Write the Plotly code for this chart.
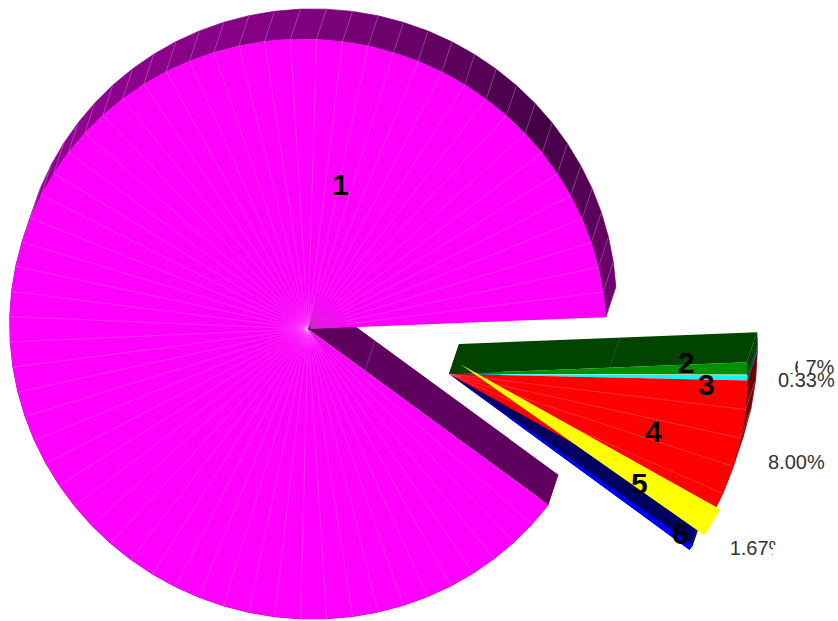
import numpy as np
import plotly.graph_objects as go

# Slice data
slice_names = ["1", "2", "3", "4", "5", "6"]
slice_values = [89.00, 0.67, 0.33, 8.00, 1.67, 0.33]
value_labels = ["", "0.67%", "0.33%", "8.00%", "1.67%", ""]

face_colors = ["#ff00ff", "#009000", "#00ffff", "#ff0000", "#ffff00", "#0000ff"]
cut_colors = ["#5f005f", "#004400", "#006060", "#700000", "#707000", "#000060"]
wall_bases = [(255, 0, 255), (0, 136, 0), (0, 190, 190), (255, 0, 0), (200, 200, 0), (0, 0, 200)]

# Projection of the tilted disc onto the plotting area
AXIS_A, AXIS_B = 299.0, 289.5
TILT = np.radians(-15.0)
DEPTH = (10.0, -30.0)
START_ANGLE = -21.8
CENTRES = [(308, 329), (449, 374), (449, 374), (449, 374), (460, 364), (449, 374)]
FACETS = [64, 2, 1, 5, 1, 1]
EDGE = "rgba(255,215,255,0.45)"


def rim(centre, angles):
    rad = np.radians(angles)
    ex, ey = AXIS_A * np.cos(rad), AXIS_B * np.sin(rad)
    return (centre[0] + ex * np.cos(TILT) - ey * np.sin(TILT),
            centre[1] - (ex * np.sin(TILT) + ey * np.cos(TILT)))


def wall_color(angle, base):
    # Side walls darken towards the upper right, away from the light
    folded = (angle + 40) % 360 - 40
    stops = [-40, 20, 35, 55, 75, 105, 145, 185, 320]
    levels = [0.44, 0.44, 0.36, 0.27, 0.36, 0.50, 0.56, 0.60, 0.60]
    k = np.interp(folded, stops, levels)
    return "rgb({},{},{})".format(*[int(c * k) for c in base])


def poly(xs, ys, color, seal=False):
    # A thin outline in the fill colour closes the seams between neighbouring quads
    line = dict(width=0.7, color=color) if seal else dict(width=0)
    return go.Scatter(x=list(xs), y=list(ys), mode="lines", fill="toself",
                      fillcolor=color, line=line, hoverinfo="skip")


def hairlines(xs, ys, color=EDGE):
    return go.Scatter(x=xs, y=ys, mode="lines", line=dict(color=color, width=0.5),
                      hoverinfo="skip")


def cut_wall(c, px, py, color):
    return poly([c[0], px, px + DEPTH[0], c[0] + DEPTH[0]],
                [c[1], py, py + DEPTH[1], c[1] + DEPTH[1]], color)


def cut_seam(c, px, py, t, color=EDGE):
    sx, sy = c[0] + t * (px - c[0]), c[1] + t * (py - c[1])
    return hairlines([sx, sx + DEPTH[0]], [sy, sy + DEPTH[1]], color)


fig = go.Figure()

# Slices run clockwise from the start angle
sweeps = np.array(slice_values) / sum(slice_values) * 360.0
ends = START_ANGLE - np.cumsum(sweeps)
starts = ends + sweeps
dx, dy = DEPTH

# Rear walls go first so the faces can cover them
for i in [5, 3, 2, 1, 0]:
    c = CENTRES[i]
    a = np.linspace(starts[i], ends[i], FACETS[i] + 1)
    x, y = rim(c, a)

    # Outer rim, one quad per facet
    for j in range(len(a) - 1):
        mid = (a[j] + a[j + 1]) / 2
        fig.add_trace(poly([x[j], x[j + 1], x[j + 1] + dx, x[j] + dx],
                           [y[j], y[j + 1], y[j + 1] + dy, y[j] + dy],
                           wall_color(mid, wall_bases[i]), seal=True))
    if i in (0, 3):
        lx, ly = [], []
        for j in range(len(a)):
            lx += [x[j], x[j] + dx, None]
            ly += [y[j], y[j] + dy, None]
        fig.add_trace(hairlines(lx, ly))

    if i == 0:
        fig.add_trace(cut_wall(c, x[0], y[0], cut_colors[i]))
        fig.add_trace(cut_seam(c, x[0], y[0], 0.237))
    if i == 1:
        fig.add_trace(cut_wall(c, x[0], y[0], cut_colors[i]))
        fig.add_trace(cut_seam(c, x[0], y[0], 0.54, "rgba(120,200,120,0.4)"))
    if i == 5:
        fig.add_trace(cut_wall(c, x[-1], y[-1], cut_colors[i]))

# Top faces
for i in [1, 2, 3, 5, 4, 0]:
    c = CENTRES[i]
    a = np.linspace(starts[i], ends[i], max(FACETS[i] * 4, 8) + 1)
    x, y = rim(c, a)
    fig.add_trace(poly([c[0], *x], [c[1], *y], face_colors[i]))
    if FACETS[i] > 2:
        ticks = np.linspace(starts[i], ends[i], FACETS[i] + 1)[1:-1]
        tx, ty = rim(c, ticks)
        lx, ly = [], []
        for px, py in zip(tx, ty):
            lx += [c[0], px, None]
            ly += [c[1], py, None]
        fig.add_trace(hairlines(lx, ly))
        if i == 0:
            # Darker hub on the side of the slice facing the gap
            hub = [(px, py) for px, py, t in zip(tx, ty, ticks)
                   if (t + 40) % 360 - 40 < 90]
            hx, hy = [], []
            for px, py in hub:
                hx += [c[0], c[0] + 0.13 * (px - c[0]), None]
                hy += [c[1], c[1] + 0.13 * (py - c[1]), None]
            fig.add_trace(hairlines(hx, hy, "rgba(110,0,110,0.55)"))

# Percentage labels that sit underneath the masks
fig.add_trace(go.Scatter(x=[806, 758], y=[369, 550], mode="text",
                         text=[value_labels[1], value_labels[4]],
                         textposition="middle center",
                         textfont=dict(family="Liberation Sans", size=20, color="#333333"),
                         hoverinfo="skip"))

layout_shapes = [
    dict(type="rect", x0=772, x1=795, y0=358, y1=373, fillcolor="white", line_width=0, layer="above"),
    dict(type="rect", x0=798, x1=805, y0=358, y1=373, fillcolor="white", line_width=0, layer="above"),
    dict(type="rect", x0=773, x1=800, y0=545, y1=562, fillcolor="white", line_width=0, layer="above"),
    dict(type="rect", x0=777, x1=800, y0=538, y1=562, fillcolor="white", line_width=0, layer="above"),
]

annotations = []
for name, px, py in zip(slice_names,
                        [340, 686, 706, 653, 639, 680],
                        [184, 362, 384, 431, 483, 533]):
    annotations.append(dict(x=px, y=py, text=f"<b>{name}</b>", showarrow=False,
                            font=dict(family="Liberation Sans", size=30, color="black")))
for label, px, py in [(value_labels[2], 806, 380), (value_labels[3], 796, 462)]:
    annotations.append(dict(x=px, y=py, text=label, showarrow=False,
                            font=dict(family="Liberation Sans", size=20, color="#333333")))

fig.update_layout(
    width=838, height=621, margin=dict(l=0, r=0, t=0, b=0),
    paper_bgcolor="white", plot_bgcolor="white", showlegend=False,
    xaxis=dict(range=[0, 838], visible=False, fixedrange=True),
    yaxis=dict(range=[621, 0], visible=False, fixedrange=True),
    shapes=layout_shapes, annotations=annotations,
)

fig.write_html("out.html", config=dict(displayModeBar=False))
